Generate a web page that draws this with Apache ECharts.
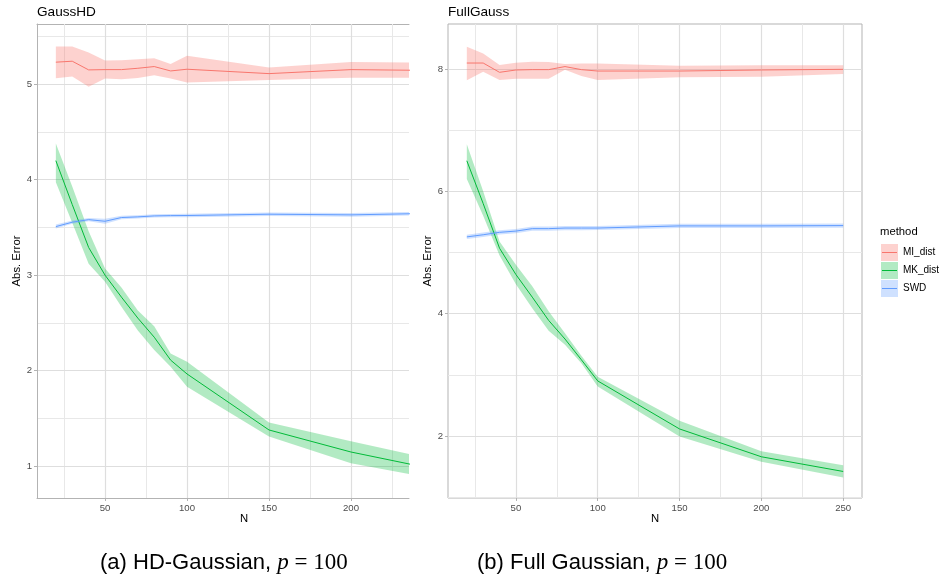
<!DOCTYPE html>
<html><head><meta charset="utf-8">
<script src="https://cdn.jsdelivr.net/npm/echarts@6/dist/echarts.min.js"></script>
<style>html,body{margin:0;padding:0;background:#fff}#c{width:943px;height:579px}</style>
</head><body><div id="c"></div>
<script>
const N = [20,30,40,50,60,70,80,90,100,150,200,250];
const methods = ['MI_dist','MK_dist','SWD'];
const colors = ['#F8766D','#00BA38','#619CFF'];
const fills = ['rgba(248,118,109,0.33)','rgba(0,186,56,0.3)','rgba(97,156,255,0.3)'];

// HD-Gaussian panel
const hdMIMean  = [5.232,5.242,5.151,5.154,5.154,5.168,5.186,5.140,5.158,5.112,5.154,5.145];
const hdMILow   = [5.063,5.081,4.975,5.060,5.053,5.067,5.095,5.060,5.018,5.046,5.070,5.070];
const hdMIHigh  = [5.396,5.396,5.333,5.249,5.253,5.263,5.274,5.214,5.298,5.175,5.235,5.225];
const hdMKMean  = [4.20,3.74,3.29,3.00,2.77,2.55,2.35,2.11,1.965,1.378,1.147,0.97];
const hdMKLow   = [3.975,3.55,3.12,2.93,2.67,2.42,2.215,2.04,1.83,1.31,1.03,0.87];
const hdMKHigh  = [4.38,3.93,3.46,3.07,2.87,2.63,2.466,2.18,2.094,1.455,1.26,1.07];
const hdSWDMean = [3.509,3.555,3.582,3.565,3.604,3.611,3.621,3.624,3.625,3.639,3.632,3.648];
const hdSWDLow  = [3.490,3.538,3.565,3.540,3.586,3.594,3.604,3.606,3.607,3.621,3.612,3.630];
const hdSWDHigh = [3.530,3.574,3.600,3.590,3.622,3.628,3.638,3.642,3.643,3.657,3.652,3.666];

// Full Gaussian panel
const fgMIMean  = [8.098,8.098,7.946,7.984,7.990,7.990,8.040,7.990,7.967,7.967,7.984,7.995];
const fgMILow   = [7.815,7.957,7.820,7.842,7.842,7.842,7.990,7.886,7.820,7.864,7.875,7.918];
const fgMIHigh  = [8.364,8.255,8.065,8.103,8.120,8.114,8.080,8.092,8.092,8.054,8.060,8.060];
const fgMKMean  = [6.50,5.80,5.07,4.64,4.27,3.89,3.585,3.246,2.90,2.115,1.66,1.42];
const fgMKLow   = [6.20,5.60,4.95,4.48,4.09,3.72,3.49,3.19,2.81,1.99,1.58,1.32];
const fgMKHigh  = [6.77,6.00,5.18,4.80,4.45,4.04,3.68,3.31,2.97,2.25,1.75,1.52];
const fgSWDMean = [5.255,5.290,5.330,5.350,5.390,5.390,5.400,5.400,5.400,5.435,5.435,5.440];
const fgSWDLow  = [5.220,5.255,5.295,5.315,5.355,5.355,5.365,5.365,5.368,5.400,5.400,5.405];
const fgSWDHigh = [5.290,5.325,5.365,5.385,5.425,5.425,5.435,5.435,5.435,5.470,5.470,5.475];

// ticks
const hdXTicks = [50,100,150,200];
const fgXTicks = [50,100,150,200,250];
const hdXMinor = [25,75,125,175,225];
const fgXMinor = [25,75,125,175,225];
const hdYTicks = [1,2,3,4,5];
const fgYTicks = [2,4,6,8];
const hdYMinor = [1.5,2.5,3.5,4.5,5.5];
const fgYMinor = [1,3,5,7];

const FONT = 'Liberation Sans, Arial, sans-serif';
const BORDER = '#b3b3b3';

function xAxis(gi, min, max, ticks, showLine) {
  return {type:'value', gridIndex:gi, min:min, max:max, position:'bottom', z:6,
    axisLine:{show:showLine, onZero:false, lineStyle:{color:BORDER, width:1}},
    axisTick:{show:true, length:3, customValues:ticks, lineStyle:{color:BORDER}},
    axisLabel:{customValues:ticks, color:'#4d4d4d', fontSize:9.6, fontFamily:FONT, margin:5},
    splitLine:{show:false}};
}
function yAxis(gi, min, max, ticks, showLine) {
  return {type:'value', gridIndex:gi, min:min, max:max, position:'left', z:6,
    axisLine:{show:showLine, onZero:false, lineStyle:{color:BORDER, width:1}},
    axisTick:{show:true, length:3, customValues:ticks, lineStyle:{color:BORDER}},
    axisLabel:{customValues:ticks, color:'#4d4d4d', fontSize:9.6, fontFamily:FONT, margin:5},
    splitLine:{show:false}};
}

function gridSeries(ai, majX, minX, majY, minY) {
  const d = [];
  minX.forEach(v => d.push({xAxis:v, lineStyle:{color:'#e8e8e8', width:1, type:'solid'}}));
  minY.forEach(v => d.push({yAxis:v, lineStyle:{color:'#e8e8e8', width:1, type:'solid'}}));
  majX.forEach(v => d.push({xAxis:v, lineStyle:{color:'#dedede', width:1.2, type:'solid'}}));
  majY.forEach(v => d.push({yAxis:v, lineStyle:{color:'#dedede', width:1.2, type:'solid'}}));
  return {type:'line', xAxisIndex:ai, yAxisIndex:ai, data:[], z:1, silent:true,
    markLine:{z:1, silent:true, symbol:['none','none'], label:{show:false}, animation:false, data:d}};
}

function bandSeries(ai, lows, highs, k) {
  return {type:'custom', xAxisIndex:ai, yAxisIndex:ai, z:2, silent:true, clip:true,
    data:N.map((n,i)=>[n, lows[i], highs[i]]),
    encode:{x:0, y:[1,2]},
    renderItem:function(params, api) {
      if (params.dataIndex !== 0) return null;
      const pts = [];
      for (let i = 0; i < N.length; i++) pts.push(api.coord([N[i], highs[i]]));
      for (let i = N.length - 1; i >= 0; i--) pts.push(api.coord([N[i], lows[i]]));
      const cs = params.coordSys;
      return {type:'polygon', shape:{points:pts}, style:{fill:fills[k]},
        clipPath:{type:'rect', shape:{x:cs.x, y:cs.y, width:cs.width, height:cs.height}}};
    }};
}

function panelSeries(ai, means, lows, highs) {
  const s = [];
  for (let k = 0; k < 3; k++) s.push(bandSeries(ai, lows[k], highs[k], k));
  for (let k = 0; k < 3; k++) {
    s.push({type:'line', name:methods[k], xAxisIndex:ai, yAxisIndex:ai, symbol:'none', silent:true, z:3,
      lineStyle:{color:colors[k], width:1}, data:N.map((n,i)=>[n, means[k][i]])});
  }
  return s;
}

const legendY = [244, 262, 280];
const graphics = [
  {type:'text', x:37, y:12, style:{text:'GaussHD', font:'13.6px '+FONT, fill:'#000', align:'left', verticalAlign:'middle'}},
  {type:'text', x:448, y:12, style:{text:'FullGauss', font:'13.6px '+FONT, fill:'#000', align:'left', verticalAlign:'middle'}},
  {type:'text', x:244, y:519, style:{text:'N', font:'11.3px '+FONT, fill:'#000', align:'center', verticalAlign:'middle'}},
  {type:'text', x:655, y:519, style:{text:'N', font:'11.3px '+FONT, fill:'#000', align:'center', verticalAlign:'middle'}},
  {type:'text', x:17, y:261, rotation:Math.PI/2, style:{text:'Abs. Error', font:'11.3px '+FONT, fill:'#000', align:'center', verticalAlign:'middle'}},
  {type:'text', x:428, y:261, rotation:Math.PI/2, style:{text:'Abs. Error', font:'11.3px '+FONT, fill:'#000', align:'center', verticalAlign:'middle'}},
  {type:'text', x:880, y:232, style:{text:'method', font:'11.3px '+FONT, fill:'#000', align:'left', verticalAlign:'middle'}},
  {type:'text', x:100, y:563, style:{
    text:'{s|(a) HD-Gaussian, }{m|p}{r| = 100}',
    rich:{s:{font:'22px '+FONT, fill:'#000'}, m:{font:'italic 23px Liberation Serif, serif', fill:'#000'}, r:{font:'23px Liberation Serif, serif', fill:'#000'}},
    align:'left', verticalAlign:'middle'}},
  {type:'text', x:477, y:563, style:{
    text:'{s|(b) Full Gaussian, }{m|p}{r| = 100}',
    rich:{s:{font:'22px '+FONT, fill:'#000'}, m:{font:'italic 23px Liberation Serif, serif', fill:'#000'}, r:{font:'23px Liberation Serif, serif', fill:'#000'}},
    align:'left', verticalAlign:'middle'}}
];
methods.forEach((m, k) => {
  graphics.push({type:'rect', shape:{x:881, y:legendY[k], width:17, height:17}, style:{fill:fills[k]}});
  graphics.push({type:'line', shape:{x1:882, y1:legendY[k]+8.5, x2:897, y2:legendY[k]+8.5}, style:{stroke:colors[k], lineWidth:1}});
  graphics.push({type:'text', x:903, y:legendY[k]+8.5, style:{text:m, font:'10px '+FONT, fill:'#000', align:'left', verticalAlign:'middle'}});
});

const chart = echarts.init(document.getElementById('c'), null, {renderer:'canvas'});
chart.setOption({
  animation:false,
  backgroundColor:'#fff',
  grid:[
    {left:37, top:24, width:372, height:474, show:true, backgroundColor:'#fff', borderWidth:0},
    {left:448, top:24, width:414, height:474, show:true, backgroundColor:'#fff', borderColor:BORDER, borderWidth:1}
  ],
  xAxis:[
    xAxis(0, 8.5, 235.4, hdXTicks, true),
    xAxis(1, 8.5, 261.5, fgXTicks, false),
    {type:'value', gridIndex:0, min:8.5, max:235.4, position:'top', axisLine:{show:true, onZero:false, lineStyle:{color:BORDER}}, axisTick:{show:false}, axisLabel:{show:false}, splitLine:{show:false}}
  ],
  yAxis:[
    yAxis(0, 0.665, 5.632, hdYTicks, true),
    yAxis(1, 0.986, 8.736, fgYTicks, false)
  ],
  series:[
    gridSeries(0, hdXTicks, hdXMinor, hdYTicks, hdYMinor),
    gridSeries(1, fgXTicks, fgXMinor, fgYTicks, fgYMinor),
    ...panelSeries(0, [hdMIMean, hdMKMean, hdSWDMean], [hdMILow, hdMKLow, hdSWDLow], [hdMIHigh, hdMKHigh, hdSWDHigh]),
    ...panelSeries(1, [fgMIMean, fgMKMean, fgSWDMean], [fgMILow, fgMKLow, fgSWDLow], [fgMIHigh, fgMKHigh, fgSWDHigh])
  ],
  graphic: graphics
});
</script>
</body></html>
